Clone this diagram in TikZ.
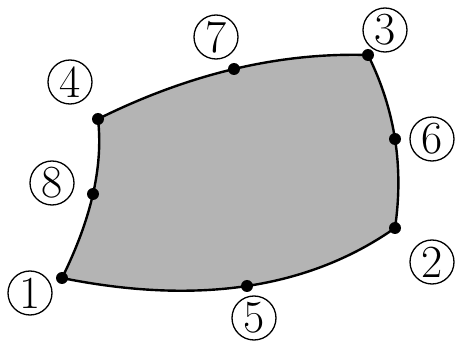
\documentclass[tikz,border=0pt]{standalone}
\usetikzlibrary{calc}
\definecolor{fillgray}{RGB}{180,180,180}
\tikzset{
  pt/.style={circle,fill=black,inner sep=0pt,minimum size=12pt},
  lab/.style={circle,draw=black,line width=1.3pt,inner sep=0pt,minimum size=44pt,
    font=\fontsize{46}{50}\selectfont},
  edgeline/.style={line width=2.4pt,line join=round}
}
\begin{document}
\begin{tikzpicture}[x=1pt,y=-1pt]
\useasboundingbox (0,0) rectangle (456,342);
\coordinate (p1) at (62,278);
\coordinate (p5) at (247,286);
\coordinate (p2) at (395,228);
\coordinate (p6) at (395,139);
\coordinate (p3) at (368,55);
\coordinate (p7) at (234,69);
\coordinate (p4) at (98,119);
\coordinate (p8) at (93,194);
% quadratic control points C = 2M - (A+B)/2
\coordinate (c12) at (265.5,319);
\coordinate (c23) at (408.5,136.5);
\coordinate (c34) at (235,51);
\coordinate (c41) at (106,189.5);
\draw[edgeline,fill=fillgray]
  (p1) .. controls ($(p1)!2/3!(c12)$) and ($(p2)!2/3!(c12)$) .. (p2)
       .. controls ($(p2)!2/3!(c23)$) and ($(p3)!2/3!(c23)$) .. (p3)
       .. controls ($(p3)!2/3!(c34)$) and ($(p4)!2/3!(c34)$) .. (p4)
       .. controls ($(p4)!2/3!(c41)$) and ($(p1)!2/3!(c41)$) .. (p1) -- cycle;
\foreach \p in {1,...,8} { \node[pt] (d\p) at (p\p) {}; }
\node[lab] (l1) at (30,293) {1};
\node[lab] (l2) at (432,262) {2};
\node[lab] (l3) at (385,30) {3};
\node[lab] (l4) at (70,82) {4};
\node[lab] (l5) at (254,318) {5};
\node[lab] (l6) at (432,139) {6};
\node[lab] (l7) at (216,37) {7};
\node[lab] (l8) at (52,183) {8};
\end{tikzpicture}
\end{document}
